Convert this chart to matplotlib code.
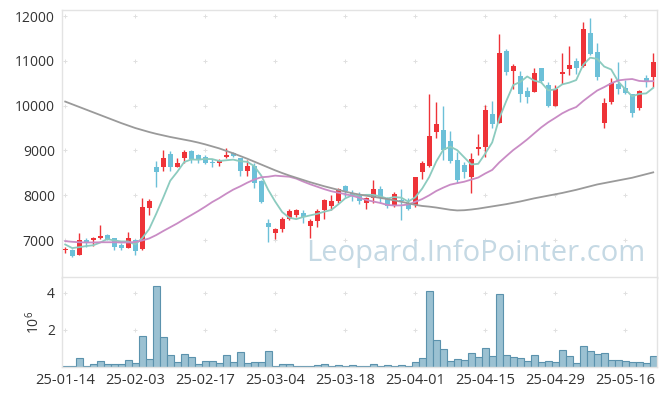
import numpy as np
import pandas as pd
import matplotlib
matplotlib.use("Agg")
import matplotlib.pyplot as plt

plt.rcParams['font.family'] = ['Open Sans', 'DejaVu Sans']

dates = ['25-01-14', '25-01-15', '25-01-16', '25-01-17', '25-01-20', '25-01-21', '25-01-22', '25-01-23', '25-01-24', '25-01-31',
         '25-02-03', '25-02-04', '25-02-05', '25-02-06', '25-02-07', '25-02-10', '25-02-11', '25-02-12', '25-02-13', '25-02-14',
         '25-02-17', '25-02-18', '25-02-19', '25-02-20', '25-02-21', '25-02-24', '25-02-25', '25-02-26', '25-02-27', '25-02-28',
         '25-03-04', '25-03-05', '25-03-06', '25-03-07', '25-03-10', '25-03-11', '25-03-12', '25-03-13', '25-03-14', '25-03-17',
         '25-03-18', '25-03-19', '25-03-20', '25-03-21', '25-03-24', '25-03-25', '25-03-26', '25-03-27', '25-03-28', '25-03-31',
         '25-04-01', '25-04-02', '25-04-03', '25-04-04', '25-04-07', '25-04-08', '25-04-09', '25-04-10', '25-04-11', '25-04-14',
         '25-04-15', '25-04-16', '25-04-17', '25-04-18', '25-04-21', '25-04-22', '25-04-23', '25-04-24', '25-04-25', '25-04-28',
         '25-04-29', '25-04-30', '25-05-02', '25-05-07', '25-05-08', '25-05-09', '25-05-12', '25-05-13', '25-05-14', '25-05-15',
         '25-05-16', '25-05-19', '25-05-20', '25-05-21', '25-05-22']

opens = [6770, 6780, 6670, 7000, 6990, 7050, 7110, 7040, 6890, 6830,
         7000, 6790, 7720, 8640, 8640, 8920, 8640, 8830, 8990, 8900,
         8860, 8750, 8710, 8850, 8950, 8830, 8530, 8650, 8320, 7370,
         7160, 7250, 7480, 7550, 7600, 7310, 7430, 7670, 7760, 7860,
         8200, 8060, 8020, 7830, 7930, 8140, 7930, 7760, 7900, 7830,
         7780, 8510, 8650, 9420, 9450, 9210, 8790, 8670, 8410, 9030,
         9070, 9810, 9620, 11230, 10780, 10660, 10330, 10310, 10830, 10470,
         10000, 10710, 10810, 11000, 10890, 11610, 11190, 9610, 10090, 10480,
         10390, 10250, 9940, 10610, 10630]
highs = [6850, 6800, 7150, 7040, 7060, 7330, 7130, 7050, 6930, 7180,
         7030, 7930, 7910, 8770, 9020, 8990, 8840, 9000, 9020, 8930,
         8900, 8810, 8800, 9050, 8960, 8840, 8780, 8710, 8330, 7460,
         7260, 7520, 7690, 7700, 7670, 7470, 7700, 7910, 8000, 8150,
         8230, 8120, 8080, 7970, 8350, 8200, 7960, 8080, 8130, 7930,
         8410, 8770, 10250, 10090, 9990, 9430, 8970, 8750, 8950, 9360,
         10010, 10100, 11600, 11260, 10930, 10780, 10420, 10830, 10850, 10530,
         10460, 11170, 11340, 11060, 11870, 11950, 11390, 10180, 10610, 10980,
         10580, 10270, 10350, 10680, 11180]
lows = [6710, 6610, 6660, 6850, 6870, 7020, 7010, 6780, 6770, 6820,
        6660, 6780, 7560, 8180, 8530, 8530, 8630, 8720, 8710, 8720,
        8700, 8640, 8650, 8830, 8860, 8430, 8420, 8150, 7830, 6950,
        7020, 7170, 7450, 7520, 7390, 7040, 7300, 7460, 7670, 7820,
        7950, 7860, 7800, 7690, 7820, 7830, 7720, 7730, 7450, 7670,
        7730, 8360, 8640, 9270, 8790, 8710, 8270, 8380, 8040, 8900,
        8850, 9490, 9610, 10680, 10360, 10090, 10050, 10300, 10500, 9960,
        9990, 10480, 10680, 10700, 10870, 11130, 10570, 9490, 10040, 10260,
        10250, 9750, 9900, 10410, 10410]
closes = [6790, 6640, 7010, 6930, 7045, 7090, 7030, 6850, 6830, 7040,
          6750, 7740, 7870, 8520, 8840, 8640, 8730, 8970, 8810, 8810,
          8730, 8710, 8760, 8890, 8880, 8550, 8650, 8280, 7840, 7280,
          7240, 7480, 7650, 7680, 7520, 7420, 7650, 7890, 7870, 8140,
          8100, 7990, 7870, 7940, 8140, 7930, 7750, 8030, 7880, 7700,
          8400, 8730, 9320, 9600, 9010, 8760, 8340, 8520, 8800, 9080,
          9900, 9590, 11180, 10740, 10880, 10250, 10200, 10720, 10540, 9990,
          10360, 10760, 10910, 10830, 11700, 11150, 10630, 10050, 10500, 10360,
          10290, 9830, 10330, 10550, 10980]
volumes = [90000, 90000, 480000, 90000, 160000, 320000, 160000, 160000, 160000, 375000,
           210000, 1660000, 430000, 4340000, 1610000, 640000, 270000, 700000, 540000, 160000,
           320000, 320000, 210000, 640000, 270000, 800000, 210000, 270000, 270000, 860000,
           90000, 160000, 160000, 50000, 50000, 50000, 110000, 160000, 50000, 110000,
           50000, 110000, 50000, 50000, 160000, 50000, 110000, 50000, 110000, 50000,
           270000, 480000, 4070000, 1450000, 960000, 320000, 430000, 375000, 750000, 540000,
           1020000, 590000, 3910000, 640000, 540000, 480000, 320000, 640000, 270000, 320000,
           270000, 910000, 590000, 210000, 1120000, 860000, 700000, 750000, 375000, 375000,
           320000, 270000, 270000, 210000, 590000]

# moving averages: values before a full window come from earlier history
ma5_head = [6900, 6820, 6840, 6865]
ma20_head = [6975, 6960, 6950, 6945, 6945, 6950, 6950, 6950, 6945, 6945,
             6955, 6990, 7035, 7110, 7200, 7285, 7370, 7465, 7555]
ma120 = [10090, 10030, 9970, 9910, 9850, 9790, 9730, 9670, 9610, 9555,
         9500, 9455, 9410, 9370, 9335, 9300, 9270, 9240, 9210, 9175,
         9135, 9090, 9045, 8990, 8935, 8875, 8815, 8750, 8685, 8620,
         8555, 8495, 8440, 8390, 8340, 8290, 8245, 8200, 8160, 8120,
         8080, 8045, 8015, 7990, 7965, 7940, 7915, 7885, 7855, 7820,
         7785, 7760, 7745, 7725, 7700, 7675, 7660, 7665, 7680, 7700,
         7725, 7750, 7775, 7800, 7830, 7860, 7895, 7930, 7960, 7990,
         8020, 8050, 8085, 8120, 8160, 8200, 8240, 8270, 8300, 8330,
         8360, 8390, 8430, 8470, 8510]

up_color = '#ee3338'
down_color = '#6cc0d8'

df = pd.DataFrame({'open': opens, 'high': highs, 'low': lows, 'close': closes, 'vol': volumes})
ma5 = df['close'].rolling(5).mean().to_numpy()
ma5[:4] = ma5_head
ma20 = df['close'].rolling(20).mean().to_numpy()
ma20[:19] = ma20_head

x = np.arange(len(df))
up = df['close'] >= df['open']
colors = np.where(up, up_color, down_color)

fig = plt.figure(figsize=(6.65, 3.96), dpi=100)
ax = fig.add_axes([61.7 / 665, 1 - 278 / 396, 595 / 665, 268 / 396])
axv = fig.add_axes([61.7 / 665, 1 - 367.3 / 396, 595 / 665, 90 / 396], sharex=ax)

# candles
ax.vlines(x, df['low'], df['high'], colors=colors, linewidth=1.0, zorder=2)
body_bottom = np.minimum(df['open'], df['close'])
body_h = np.maximum((df['close'] - df['open']).abs(), 15)
ax.bar(x, body_h, bottom=body_bottom, width=0.72, color=colors, linewidth=0, zorder=3)

ax.plot(x, ma5, color='#8ccbbf', lw=1.3, zorder=4)
ax.plot(x, ma20, color='#c98cc5', lw=1.3, zorder=4)
ax.plot(x, ma120, color='#9a9a9a', lw=1.3, zorder=4)

ax.text(0.696, 0.09, 'Leopard.InfoPointer.com', transform=ax.transAxes,
        fontsize=21, color='#c5d9e4', ha='center', va='center', zorder=1)

ax.set_xlim(-0.5, len(df) - 0.5)
ax.set_ylim(6152, 12134)
yticks = [7000, 8000, 9000, 10000, 11000, 12000]
ax.set_yticks(yticks)
ax.set_yticklabels([str(t) for t in yticks])

# volume
vol_m = df['vol'] / 1e6
axv.bar(x, vol_m, width=1.0, color='#9bc1d2', edgecolor='#5b92ad', linewidth=0.8, zorder=2)
axv.set_ylim(0, 4.82)
axv.set_yticks([2, 4])
axv.set_yticklabels(['2', '4'])
axv.set_ylabel(r'$\mathregular{10^6}$', fontsize=10, color='#333333', labelpad=3)

tick_pos = x[::10]
axv.set_xticks(tick_pos)
axv.set_xticklabels([dates[i] for i in tick_pos])
plt.setp(ax.get_xticklabels(), visible=False)

for a, levels in ((ax, yticks), (axv, [2, 4])):
    for s in a.spines.values():
        s.set_color('#e3e3e3')
        s.set_linewidth(1.0)
    a.tick_params(length=0, labelsize=10, colors='#333333', pad=5)
    gx, gy = np.meshgrid(tick_pos, levels)
    a.scatter(gx.ravel(), gy.ravel(), marker='+', s=12, color='#e0e0e0', linewidths=0.7, zorder=0)

axv.tick_params(axis='x', pad=4, labelsize=10.5)

fig.savefig('out.png', dpi=100)
